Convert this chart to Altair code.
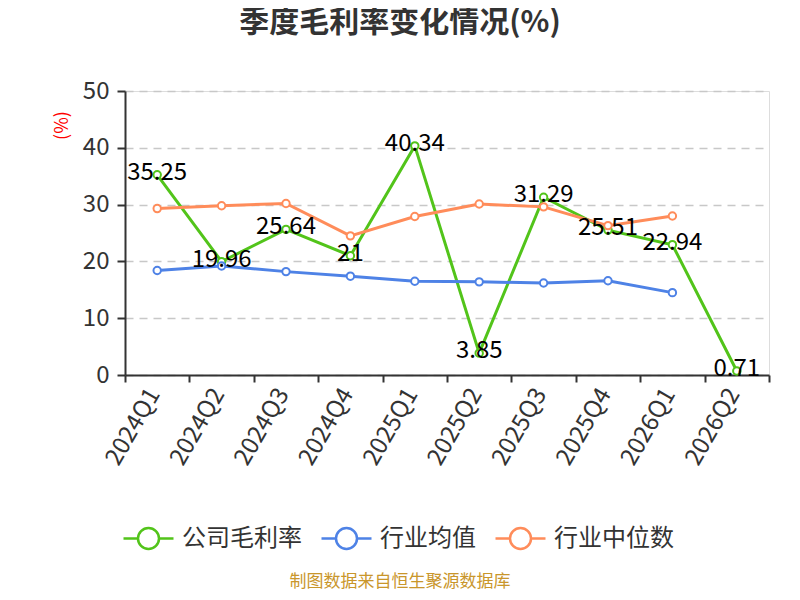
import altair as alt
import pandas as pd

quarters = ["2024Q1", "2024Q2", "2024Q3", "2024Q4", "2025Q1",
            "2025Q2", "2025Q3", "2025Q4", "2026Q1", "2026Q2"]
company = [35.25, 19.96, 25.64, 21, 40.34, 3.85, 31.29, 25.51, 22.94, 0.71]
ind_avg = [18.4, 19.2, 18.2, 17.4, 16.5, 16.4, 16.2, 16.6, 14.5]
ind_median = [29.3, 29.8, 30.2, 24.5, 27.9, 30.1, 29.6, 26.3, 28.0]

series_names = ["公司毛利率", "行业均值", "行业中位数"]
series_colors = ["#52c41a", "#4e82e6", "#ff8c5a"]
title_text = "季度毛利率变化情况(%)"
footer_text = "制图数据来自恒生聚源数据库"
font = "Noto Sans CJK SC"

rows = []
for name, vals in zip(series_names, [company, ind_avg, ind_median]):
    for i, v in enumerate(vals):
        rows.append({"series": name, "quarter": quarters[i], "value": v,
                     "label": f"{v:g}", "order": i})
df = pd.DataFrame(rows)

legend_path = ("M-1,0L-0.42,0M0.42,0L1,0"
               "M0.42,0A0.42,0.42,0,1,1,-0.42,0A0.42,0.42,0,1,1,0.42,0")

x_enc = alt.X("quarter:N", sort=quarters,
              scale=alt.Scale(type="band", paddingInner=0, paddingOuter=0, domain=quarters),
              axis=alt.Axis(title=None, tickBand="extent", labelAngle=-60,
                            labelAlign="right", labelBaseline="middle",
                            labelFontSize=24, labelColor="#333", labelFont=font,
                            labelPadding=8, labelOffset=-3, tickSize=7, tickColor="#333",
                            domainColor="#333", domainWidth=2, tickWidth=2,
                            grid=False))
y_enc = alt.Y("value:Q", scale=alt.Scale(domain=[0, 50], nice=False),
              axis=alt.Axis(values=[0, 10, 20, 30, 40, 50], title="(%)",
                            titleColor="red", titleFontSize=18, titleFont=font,
                            titleFontWeight="normal", titleX=-63, titleY=34,
                            titleAngle=270, titleAlign="center", titleBaseline="middle",
                            labelFontSize=24, labelColor="#333", labelFont=font,
                            labelPadding=8, tickSize=8, tickColor="#333", tickWidth=2,
                            domainColor="#333", domainWidth=2,
                            grid=True, gridDash=[8, 6], gridColor="#c8c8c8",
                            gridWidth=1.5))
color_enc = alt.Color("series:N",
                      scale=alt.Scale(domain=series_names, range=series_colors),
                      legend=alt.Legend(title=None, orient="none", direction="horizontal",
                                        legendX=-3, legendY=421,
                                        symbolType=legend_path, symbolSize=2500,
                                        symbolStrokeWidth=2.5, symbolFillColor="white",
                                        labelFontSize=24, labelColor="#333",
                                        labelFont=font, labelOffset=7,
                                        columnPadding=14, padding=0))

base = alt.Chart(df)
layers = []
for name in series_names:
    sub = base.transform_filter(alt.datum.series == name)
    layers.append(sub.mark_line(strokeWidth=3).encode(
        x=x_enc, y=y_enc, color=color_enc, order="order:Q"))
    layers.append(sub.mark_point(filled=True, fill="white", size=55, strokeWidth=2,
                                 opacity=1).encode(
        x=x_enc, y=y_enc, stroke=alt.Stroke("series:N",
                                            scale=alt.Scale(domain=series_names,
                                                            range=series_colors),
                                            legend=None)))

labels = base.transform_filter(alt.datum.series == series_names[0]).mark_text(
    fontSize=24, font=font, color="black", dy=-2, baseline="middle"
).encode(x=x_enc, y=y_enc, text="label:N")

title = alt.Chart(pd.DataFrame({"t": [title_text]})).mark_text(
    fontSize=30, font=font, fontWeight="bold", color="#333",
    baseline="middle", align="center"
).encode(x=alt.value(275), y=alt.value(-68), text="t:N")

footer = alt.Chart(pd.DataFrame({"t": [footer_text]})).mark_text(
    fontSize=17, font=font, color="#c9962b", baseline="middle", align="center"
).encode(x=alt.value(275), y=alt.value(491), text="t:N")

chart = alt.layer(*layers, labels, title, footer).properties(
    width=644, height=284,
    autosize=alt.AutoSizeParams(type="none"),
    padding={"left": 117, "top": 83, "right": 23, "bottom": 217},
).configure_view(stroke=None).configure(background="white")

chart.save("out.html", embed_options={"renderer": "svg", "actions": False})
